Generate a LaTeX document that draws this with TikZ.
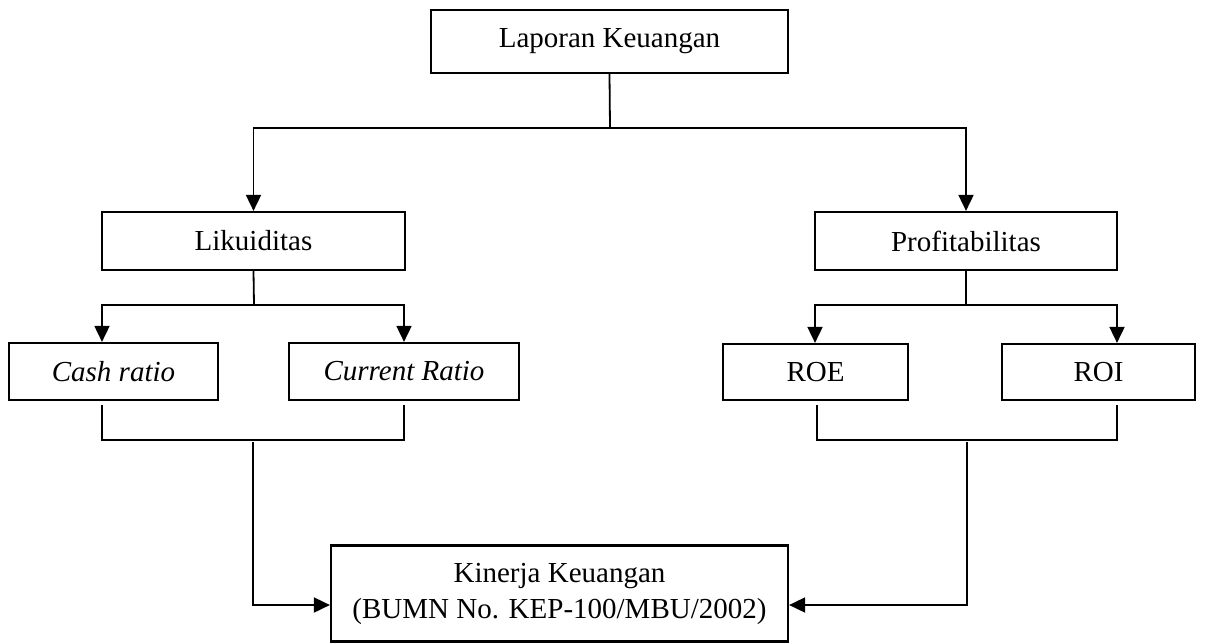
\documentclass[tikz,border=0pt]{standalone}
\usepackage{fontspec}
\setmainfont{Liberation Serif}
\usetikzlibrary{arrows.meta,calc}
\begin{document}
\begin{tikzpicture}[x=1pt,y=-1pt,
  box/.style={draw,line width=2.2pt,rectangle,inner sep=0pt,align=center,font=\fontsize{29}{36}\selectfont},
  conn/.style={line width=1.8pt},
  arr/.style={conn,-{Triangle[width=15pt,length=16pt]}}]
\useasboundingbox (0,0) rectangle (1206,643);
\fill[white] (0,0) rectangle (1206,643);
% boxes
\node[box,minimum width=357pt,minimum height=63pt] (top) at (609.5,41.5) {Laporan Keuangan};
\node[box,minimum width=303pt,minimum height=58pt] (lik) at (253.5,241) {Likuiditas};
\node[box,minimum width=302pt,minimum height=58pt] (prof) at (966,241) {Profitabilitas};
\node[box,minimum width=209pt,minimum height=57pt] (cash) at (113.5,371.5) {\itshape Cash ratio};
\node[box,minimum width=230pt,minimum height=57pt] (curr) at (404,371.5) {\itshape Current Ratio};
\node[box,minimum width=185pt,minimum height=56pt] (roe) at (815.5,372) {ROE};
\node[box,minimum width=193pt,minimum height=56pt] (roi) at (1098.5,372) {ROI};
\node[box,minimum width=457pt,minimum height=96pt] (kin) at (559.5,593.5) {Kinerja Keuangan\\(BUMN No. KEP-100/MBU/2002)};
% junction coordinates
\coordinate (t1) at (610,128);
\coordinate (l1) at (254,305);
\coordinate (la) at (102,305);
\coordinate (lb) at (404,305);
\coordinate (p1) at (966,305);
\coordinate (pa) at (815,305);
\coordinate (pb) at (1117,305);
\coordinate (b1a) at (102,405);
\coordinate (b1b) at (404,405);
\coordinate (b1c) at (253,442);
\coordinate (b1d) at (253,605);
\coordinate (b2a) at (817,405);
\coordinate (b2b) at (1117,405);
\coordinate (b2c) at (967,442);
\coordinate (b2d) at (967,605);
% top level
\draw[conn] (top.south) -- (t1);
\draw[arr] (t1) -| (lik.north);
\draw[arr] (t1) -| (prof.north);
% likuiditas branch
\draw[conn] (lik.south) -- (l1);
\draw[arr] (l1) -- (la) -- (la |- cash.north);
\draw[arr] (l1) -- (lb) -- (lb |- curr.north);
% profitabilitas branch
\draw[conn] (prof.south) -- (p1);
\draw[arr] (p1) -- (pa) -- (pa |- roe.north);
\draw[arr] (p1) -- (pb) -- (pb |- roi.north);
% brackets
\draw[conn] (b1a) -- ++(0,35) -| (b1b);
\draw[conn] (b2a) -- ++(0,35) -| (b2b);
% to kinerja
\draw[arr] (b1c) -- (b1d) -- (b1d -| kin.west);
\draw[arr] (b2c) -- (b2d) -- (b2d -| kin.east);
\end{tikzpicture}
\end{document}
